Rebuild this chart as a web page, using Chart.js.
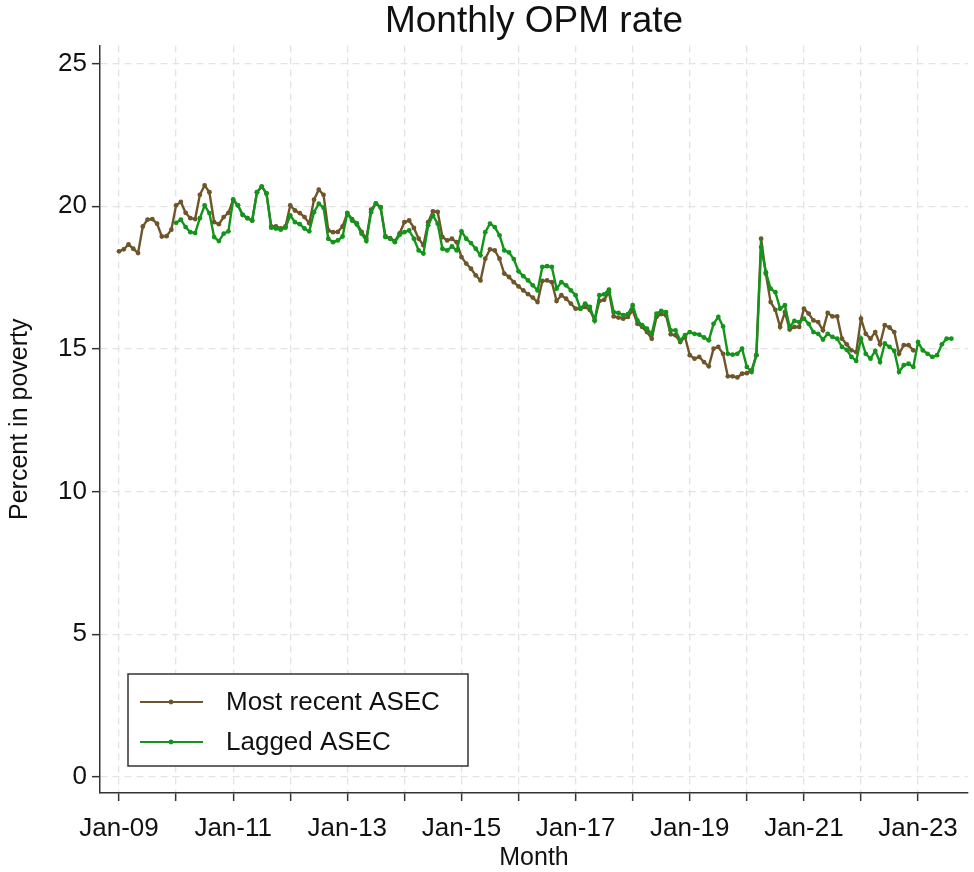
<!DOCTYPE html>
<html>
<head>
<meta charset="utf-8">
<script src="https://cdn.jsdelivr.net/npm/chart.js@4.4.1/dist/chart.umd.min.js"></script>
<style>
  html, body { margin: 0; padding: 0; background: #ffffff; }
  #wrap { width: 974px; height: 872px; }
</style>
</head>
<body>
<div id="wrap"><canvas id="c" width="974" height="872"></canvas></div>
<script>
// Month index 0 = Jan-09
const xTickLabels = ['Jan-09', 'Jan-11', 'Jan-13', 'Jan-15', 'Jan-17', 'Jan-19', 'Jan-21', 'Jan-23'];
const yTickValues = [0, 5, 10, 15, 20, 25];
const seriesNames = ['Most recent ASEC', 'Lagged ASEC'];

// Most recent ASEC: Jan-09 .. Dec-22
const recentStart = 0;
const recentValues = [
  18.42, 18.49, 18.66, 18.51, 18.36, 19.29, 19.53, 19.55, 19.39, 18.94,
  18.95, 19.18, 20.03, 20.15, 19.77, 19.58, 19.55, 20.40, 20.73, 20.49,
  19.44, 19.37, 19.62, 19.77, 20.23, 20.03, 19.70, 19.58, 19.50, 20.49,
  20.69, 20.45, 19.29, 19.29, 19.22, 19.29, 20.03, 19.85, 19.76, 19.62,
  19.40, 20.23, 20.58, 20.40, 19.15, 19.09, 19.10, 19.29, 19.76, 19.55,
  19.40, 19.10, 18.86, 19.88, 20.10, 19.97, 18.95, 18.88, 18.78, 19.05,
  19.44, 19.50, 19.24, 18.86, 18.63, 19.44, 19.82, 19.80, 18.92, 18.80,
  18.86, 18.74, 18.22, 17.99, 17.81, 17.58, 17.40, 18.16, 18.49, 18.45,
  18.16, 17.64, 17.52, 17.34, 17.19, 17.05, 16.92, 16.80, 16.64, 17.38,
  17.40, 17.34, 16.68, 16.88, 16.76, 16.59, 16.41, 16.41, 16.47, 16.36,
  16.00, 16.68, 16.72, 16.99, 16.14, 16.10, 16.06, 16.12, 16.35, 15.88,
  15.77, 15.59, 15.36, 16.12, 16.22, 16.18, 15.51, 15.48, 15.24, 15.42,
  14.78, 14.66, 14.72, 14.54, 14.39, 15.01, 15.07, 14.83, 14.04, 14.04,
  14.00, 14.13, 14.15, 14.25, 14.78, 18.86, 17.63, 16.64, 16.37, 15.77,
  16.29, 15.68, 15.77, 15.77, 16.41, 16.24, 16.00, 15.94, 15.65, 16.26,
  16.14, 16.14, 15.36, 15.16, 14.95, 14.89, 16.06, 15.53, 15.36, 15.59,
  15.16, 15.83, 15.75, 15.59, 14.83, 15.13, 15.13, 14.95
];

// Lagged ASEC: Jan-10 .. Aug-23
const laggedStart = 12;
const laggedValues = [
  19.42, 19.53, 19.27, 19.09, 19.06, 19.58, 20.03, 19.76,
  18.92, 18.78, 19.04, 19.12, 20.23, 20.03, 19.70, 19.58, 19.50, 20.49,
  20.69, 20.45, 19.25, 19.22, 19.18, 19.25, 19.68, 19.44, 19.37, 19.22,
  19.12, 19.79, 20.09, 19.95, 18.86, 18.74, 18.80, 18.94, 19.76, 19.50,
  19.36, 19.04, 18.78, 19.79, 20.09, 19.95, 18.92, 18.86, 18.74, 19.00,
  19.09, 19.15, 18.86, 18.45, 18.34, 19.33, 19.68, 19.39, 18.51, 18.45,
  18.59, 18.45, 19.12, 18.86, 18.71, 18.51, 18.28, 19.09, 19.39, 19.27,
  18.98, 18.45, 18.38, 18.15, 17.72, 17.55, 17.40, 17.23, 17.05, 17.87,
  17.90, 17.87, 17.11, 17.34, 17.23, 17.05, 16.88, 16.41, 16.59, 16.47,
  16.00, 16.88, 16.91, 17.08, 16.29, 16.26, 16.18, 16.22, 16.53, 16.00,
  15.83, 15.71, 15.53, 16.24, 16.33, 16.29, 15.65, 15.65, 15.30, 15.48,
  15.59, 15.53, 15.50, 15.40, 15.30, 15.88, 16.12, 15.79, 14.83, 14.80,
  14.83, 15.01, 14.37, 14.19, 14.78, 18.57, 17.69, 17.11, 16.99, 16.41,
  16.53, 15.77, 15.98, 15.94, 16.06, 15.88, 15.59, 15.53, 15.33, 15.53,
  15.42, 15.36, 15.07, 14.97, 14.72, 14.58, 15.36, 14.83, 14.66, 14.93,
  14.54, 15.19, 15.07, 14.93, 14.19, 14.43, 14.48, 14.37, 15.24, 14.95,
  14.83, 14.72, 14.78, 15.16, 15.36, 15.36
];

const brownColor = '#6e562a';
const greenColor = '#12951a';
const FONT = "'Liberation Sans', Arial, Helvetica, sans-serif";

function toPoints(start, values) {
  return values.map((v, i) => ({ x: start + i, y: v }));
}

const boxLegend = {
  id: 'boxLegend',
  afterDraw(chart) {
    const { ctx, chartArea } = chart;
    const x0 = chartArea.left + 28;
    const w = 340, h = 92;
    const y0 = chartArea.bottom - 27 - h;
    ctx.save();
    ctx.fillStyle = '#ffffff';
    ctx.fillRect(x0, y0, w, h);
    ctx.strokeStyle = '#333333';
    ctx.lineWidth = 1.5;
    ctx.strokeRect(x0, y0, w, h);
    const order = [0, 1];
    order.forEach((dsIdx, i) => {
      const ds = chart.data.datasets[dsIdx];
      const cy = y0 + 28 + i * 40;
      ctx.strokeStyle = ds.borderColor;
      ctx.lineWidth = 2;
      ctx.beginPath();
      ctx.moveTo(x0 + 12, cy);
      ctx.lineTo(x0 + 75, cy);
      ctx.stroke();
      ctx.fillStyle = ds.borderColor;
      ctx.beginPath();
      ctx.arc(x0 + 43, cy, 2.4, 0, Math.PI * 2);
      ctx.fill();
      ctx.fillStyle = '#111111';
      ctx.font = '26px ' + FONT;
      ctx.textBaseline = 'middle';
      ctx.textAlign = 'left';
      ctx.fillText(ds.label, x0 + 98, cy + 1);
    });
    ctx.restore();
  }
};

new Chart(document.getElementById('c'), {
  type: 'line',
  data: {
    datasets: [
      {
        label: seriesNames[0],
        data: toPoints(recentStart, recentValues),
        borderColor: brownColor,
        backgroundColor: brownColor,
        borderWidth: 2.4,
        pointRadius: 2.4,
        pointBorderWidth: 0,
        pointBackgroundColor: brownColor,
        tension: 0,
        order: 2
      },
      {
        label: seriesNames[1],
        data: toPoints(laggedStart, laggedValues),
        borderColor: greenColor,
        backgroundColor: greenColor,
        borderWidth: 2.4,
        pointRadius: 2.4,
        pointBorderWidth: 0,
        pointBackgroundColor: greenColor,
        tension: 0,
        order: 1
      }
    ]
  },
  options: {
    responsive: false,
    animation: false,
    devicePixelRatio: 1,
    layout: { padding: { left: 0, right: 6, top: 0, bottom: 0 } },
    plugins: {
      legend: { display: false },
      tooltip: { enabled: false },
      title: {
        display: true,
        text: 'Monthly OPM rate',
        fullSize: false,
        color: '#111111',
        font: { family: FONT, size: 37, weight: 'normal', lineHeight: 1.15 },
        padding: { top: 1, bottom: 2 }
      }
    },
    scales: {
      x: {
        type: 'linear',
        min: -4,
        max: 178.5,
        afterBuildTicks(scale) {
          const t = [];
          for (let v = 0; v <= 168; v += 12) t.push({ value: v });
          scale.ticks = t;
        },
        afterFit(scale) { scale.height = 79; },
        ticks: {
          autoSkip: false,
          maxRotation: 0,
          padding: 12,
          color: '#111111',
          font: { family: FONT, size: 26 },
          callback(value) {
            return value % 24 === 0 ? xTickLabels[value / 24] : '';
          }
        },
        grid: {
          display: true,
          drawOnChartArea: true,
          drawTicks: true,
          tickLength: 8,
          color: '#e3e3e3',
          lineWidth: 1.3,
          tickColor: '#333333',
          tickWidth: 1.5,
          tickBorderDash: []
        },
        border: { display: true, color: '#333333', width: 1.5, dash: [7, 5] },
        title: {
          display: true,
          text: 'Month',
          color: '#111111',
          font: { family: FONT, size: 25, lineHeight: 1.1 },
          padding: { top: 0, bottom: 0 }
        }
      },
      y: {
        type: 'linear',
        min: -0.56,
        max: 25.63,
        afterBuildTicks(scale) {
          scale.ticks = yTickValues.map(v => ({ value: v }));
        },
        afterFit(scale) { scale.width = 100; },
        ticks: {
          padding: 5,
          color: '#111111',
          font: { family: FONT, size: 26 },
          callback(value) { return String(value); }
        },
        grid: {
          display: true,
          drawOnChartArea: true,
          drawTicks: true,
          tickLength: 8,
          color: '#e3e3e3',
          lineWidth: 1.3,
          tickColor: '#333333',
          tickWidth: 1.5,
          tickBorderDash: []
        },
        border: { display: true, color: '#333333', width: 1.5, dash: [7, 5] },
        title: {
          display: true,
          text: 'Percent in poverty',
          color: '#111111',
          font: { family: FONT, size: 25 },
          padding: { top: 5, bottom: 4 }
        }
      }
    }
  },
  plugins: [boxLegend]
});
</script>
</body>
</html>
